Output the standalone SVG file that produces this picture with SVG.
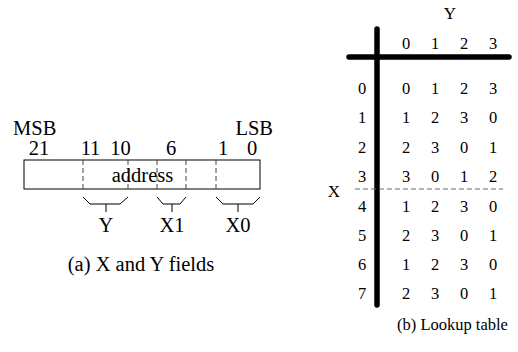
<svg xmlns="http://www.w3.org/2000/svg" width="518" height="352" viewBox="0 0 518 352">
<style>
text{font-family:'Liberation Serif','Times New Roman',serif;fill:#000}
.a{font-size:20.5px;text-anchor:middle}
.b{font-size:16.5px;text-anchor:middle}
.dash{stroke:#444;stroke-width:1;stroke-dasharray:5,3;fill:none}
.br{stroke:#000;stroke-width:1;fill:none}
.thick{stroke:#000;stroke-width:5.5;stroke-linecap:round;fill:none}
</style>
<rect width="518" height="352" fill="#fff"/>
<g id="fields">
<text x="13" y="135" style="font-size:20.5px">MSB</text>
<text x="273" y="135" style="font-size:20.5px;text-anchor:end">LSB</text>
<text class="a" x="39" y="155">21</text>
<text class="a" x="90.5" y="155">11</text>
<text class="a" x="120.5" y="155">10</text>
<text class="a" x="171" y="155">6</text>
<text class="a" x="223" y="155">1</text>
<text class="a" x="252" y="155">0</text>
<rect x="24" y="160" width="236" height="29" fill="none" stroke="#000" stroke-width="1"/>
<line class="dash" x1="83" y1="160" x2="83" y2="189"/>
<line class="dash" x1="128" y1="160" x2="128" y2="189"/>
<line class="dash" x1="157" y1="160" x2="157" y2="189"/>
<line class="dash" x1="186" y1="160" x2="186" y2="189"/>
<line class="dash" x1="216" y1="160" x2="216" y2="189"/>
<text class="a" x="142.5" y="182">address</text>
</g>
<g id="connectors">
<path class="br" d="M83,197 L90,204 L120,204 L128,197 M106,204 V212"/>
<path class="br" d="M157,197 L163,204 L180,204 L186,197 M172,204 V212"/>
<path class="br" d="M216,197 L223,204 L253,204 L260,197 M238,204 V212"/>
</g>
<g id="labels-a">
<text class="a" x="106" y="232">Y</text>
<text class="a" x="172" y="232">X1</text>
<text class="a" x="238" y="232">X0</text>
<text class="a" x="141" y="271">(a) X and Y fields</text>
</g>
<g id="table">
<line class="thick" x1="377" y1="29" x2="377" y2="305"/>
<line class="thick" x1="349" y1="57" x2="509" y2="57"/>
<line x1="355" y1="189" x2="503" y2="189" stroke="#666" stroke-width="1" stroke-dasharray="5,3"/>
<text x="450" y="19" style="font-size:17px;text-anchor:middle">Y</text>
<text x="334" y="197" style="font-size:17px;text-anchor:middle">X</text>
<g>
<text class="b" x="406" y="49">0</text><text class="b" x="435" y="49">1</text><text class="b" x="464" y="49">2</text><text class="b" x="493" y="49">3</text>
<text class="b" x="362" y="94">0</text><text class="b" x="406" y="94">0</text><text class="b" x="435" y="94">1</text><text class="b" x="464" y="94">2</text><text class="b" x="493" y="94">3</text>
<text class="b" x="362" y="123.3">1</text><text class="b" x="406" y="123.3">1</text><text class="b" x="435" y="123.3">2</text><text class="b" x="464" y="123.3">3</text><text class="b" x="493" y="123.3">0</text>
<text class="b" x="362" y="152.6">2</text><text class="b" x="406" y="152.6">2</text><text class="b" x="435" y="152.6">3</text><text class="b" x="464" y="152.6">0</text><text class="b" x="493" y="152.6">1</text>
<text class="b" x="362" y="181.8">3</text><text class="b" x="406" y="181.8">3</text><text class="b" x="435" y="181.8">0</text><text class="b" x="464" y="181.8">1</text><text class="b" x="493" y="181.8">2</text>
<text class="b" x="362" y="211.6">4</text><text class="b" x="406" y="211.6">1</text><text class="b" x="435" y="211.6">2</text><text class="b" x="464" y="211.6">3</text><text class="b" x="493" y="211.6">0</text>
<text class="b" x="362" y="240.7">5</text><text class="b" x="406" y="240.7">2</text><text class="b" x="435" y="240.7">3</text><text class="b" x="464" y="240.7">0</text><text class="b" x="493" y="240.7">1</text>
<text class="b" x="362" y="270">6</text><text class="b" x="406" y="270">1</text><text class="b" x="435" y="270">2</text><text class="b" x="464" y="270">3</text><text class="b" x="493" y="270">0</text>
<text class="b" x="362" y="299">7</text><text class="b" x="406" y="299">2</text><text class="b" x="435" y="299">3</text><text class="b" x="464" y="299">0</text><text class="b" x="493" y="299">1</text>
</g>
<text class="b" x="452.5" y="330">(b) Lookup table</text>
</g>
</svg>
